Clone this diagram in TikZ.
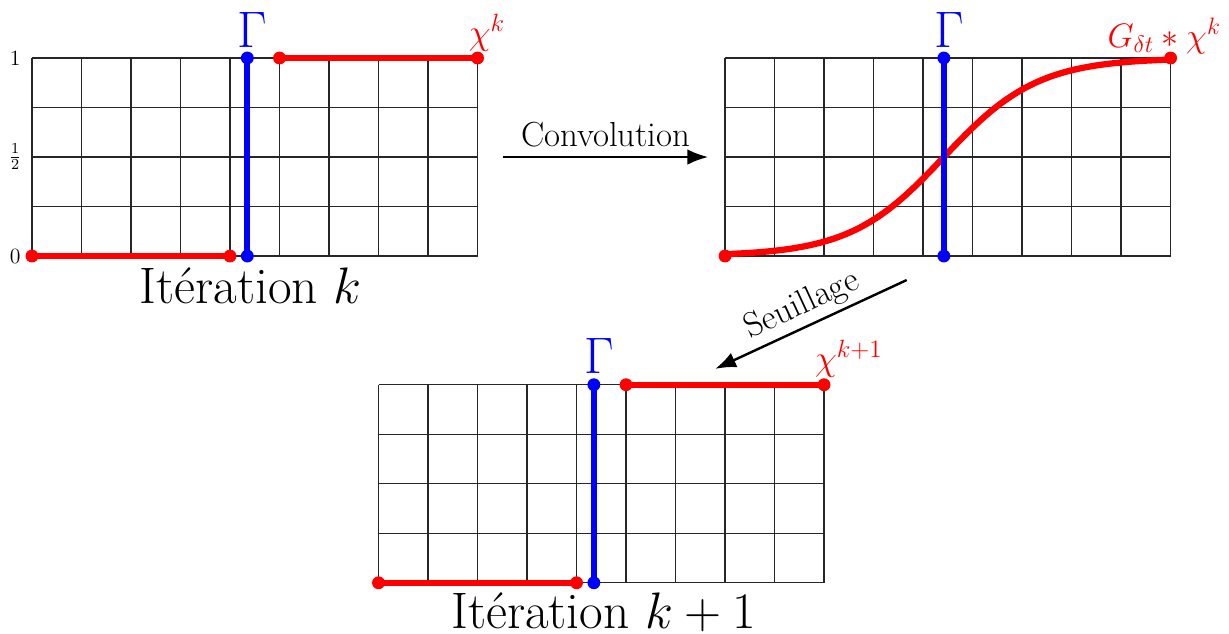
\documentclass[tikz,border=0pt]{standalone}
\usepackage{fix-cm}
\usepackage{amsmath}
\usetikzlibrary{arrows.meta}

\begin{document}
\begin{tikzpicture}[>={Latex[length=12pt,width=9pt]}]
  \tikzstyle{cell}=[black!85,line width=0.75pt]
  \tikzstyle{rdot}=[circle,fill=red,minimum size=7.4pt,inner sep=0pt]
  \tikzstyle{bdot}=[circle,fill=blue,minimum size=7.4pt,inner sep=0pt]
  \tikzstyle{chi}=[red,line width=3.6pt]
  \tikzstyle{gam}=[blue,line width=3.6pt]
  \tikzstyle{flow}=[->,line width=1.4pt]
  \tikzstyle{val}=[font=\fontsize{12.5}{14}\selectfont]
  \tikzstyle{big}=[font=\fontsize{29.5}{33}\selectfont,anchor=base]
  \tikzstyle{lbl}=[red,font=\fontsize{20.5}{24}\selectfont,anchor=base]
  \tikzstyle{word}=[font=\fontsize{20}{24}\selectfont]
  \useasboundingbox (-0.646,-7.616) rectangle (24.18,5.172);

  % iteration k
  \draw[cell] (0,0) grid (9,4);
  \node[val] (v1) at (-0.34,4) {1};
  \node[val] (vh) at (-0.34,2) {$\frac{1}{2}$};
  \node[val] (v0) at (-0.34,0) {0};
  \node[rdot] (a1) at (0,0) {};
  \node[rdot] (a2) at (4,0) {};
  \node[rdot] (a3) at (5,4) {};
  \node[rdot] (a4) at (9,4) {};
  \node[bdot] (g1) at (4.35,0) {};
  \node[bdot] (g2) at (4.35,4) {};
  \draw[chi] (a1.center) -- (a2.center);
  \draw[chi] (a3.center) -- (a4.center);
  \draw[gam] (g1.center) -- (g2.center);
  \node[big,blue] (gk) at (4.45,4.22) {$\Gamma$};
  \node[lbl] (ck) at (9.19,4.28) {$\chi^k$};
  \node[big] (itk) at (4.41,-0.95) {Itération $k$};

  % convolution
  \coordinate (cv1) at (9.52,2);
  \coordinate (cv2) at (13.66,2);
  \draw[flow] (cv1) -- node[word,above=1.5pt] (cvl) {Convolution} (cv2);

  % after convolution
  \begin{scope}[shift={(14,0)}]
    \draw[cell] (0,0) grid (9,4);
    \node[rdot] (c1) at (0,0) {};
    \node[rdot] (c2) at (9,4) {};
    \node[bdot] (h1) at (4.42,0) {};
    \node[bdot] (h2) at (4.42,4) {};
    \draw[chi] plot[domain=0:9,samples=90] (\x,{2+2*tanh((\x-4.42)/1.9)});
    \draw[gam] (h1.center) -- (h2.center);
    \node[big,blue] (gc) at (4.52,4.22) {$\Gamma$};
    \node[lbl,font=\fontsize{19.5}{23}\selectfont] (cg) at (8.87,4.22) {$G_{\delta t}*\chi^k$};
  \end{scope}

  % seuillage
  \coordinate (su1) at (17.67,-0.485);
  \coordinate (su2) at (13.8,-2.28);
  \draw[flow] (su1) -- node[word,sloped,above,inner sep=2.5pt] (sul) {Seuillage} (su2);

  % iteration k+1
  \begin{scope}[shift={(7,-6.6)}]
    \draw[cell] (0,0) grid (9,4);
    \node[rdot] (b1) at (0,0) {};
    \node[rdot] (b2) at (4,0) {};
    \node[rdot] (b3) at (5,4) {};
    \node[rdot] (b4) at (9,4) {};
    \node[bdot] (f1) at (4.35,0) {};
    \node[bdot] (f2) at (4.35,4) {};
    \draw[chi] (b1.center) -- (b2.center);
    \draw[chi] (b3.center) -- (b4.center);
    \draw[gam] (f1.center) -- (f2.center);
    \node[big,blue] (gn) at (4.45,4.22) {$\Gamma$};
    \node[lbl] (cn) at (9.5,4.28) {$\chi^{k+1}$};
    \node[big] (itn) at (4.55,-0.92) {Itération $k+1$};
  \end{scope}
\end{tikzpicture}
\end{document}
